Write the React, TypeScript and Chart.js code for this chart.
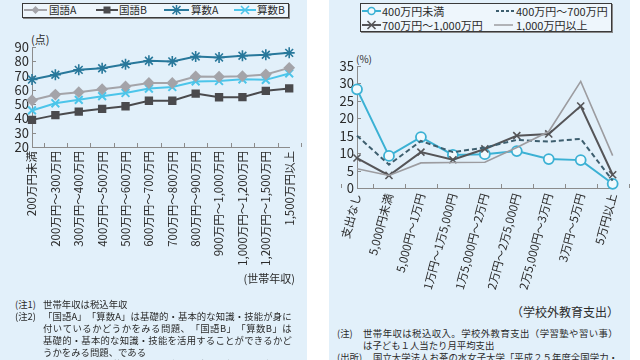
import React, { useEffect, useRef } from 'react';
import { Chart, registerables } from 'chart.js';

Chart.register(...registerables);

// ---------- data ----------
const incomeLabels = [
  '200万円未満',
  '200万円〜300万円',
  '300万円〜400万円',
  '400万円〜500万円',
  '500万円〜600万円',
  '600万円〜700万円',
  '700万円〜800万円',
  '800万円〜900万円',
  '900万円〜1,000万円',
  '1,000万円〜1,200万円',
  '1,200万円〜1,500万円',
  '1,500万円以上',
];
const kokugoA = [52.7, 56.7, 58.4, 60.5, 62.4, 64.8, 64.8, 69.4, 69.2, 69.6, 70.8, 75.4];
const kokugoB = [39.0, 42.3, 44.8, 46.7, 48.5, 52.4, 52.4, 57.4, 54.8, 54.9, 59.3, 61.0];
const sansuA = [67.2, 70.6, 74.0, 75.1, 77.9, 80.4, 79.9, 83.4, 82.7, 83.9, 84.6, 85.9];
const sansuB = [45.6, 50.6, 53.0, 55.6, 57.8, 60.9, 62.0, 65.9, 66.2, 67.4, 67.0, 71.5];
const scoreTicks = { min: 20, max: 90, step: 10 };

const spendLabels = [
  '支出なし',
  '5,000円未満',
  '5,000円〜1万円',
  '1万円〜1万5,000円',
  '1万5,000円〜2万円',
  '2万円〜2万5,000円',
  '2万5,000円〜3万円',
  '3万円〜5万円',
  '5万円以上',
];
const under400 = [28.3, 9.2, 14.6, 9.5, 9.7, 10.6, 8.3, 8.0, 1.2];
const from400to700 = [15.0, 6.7, 13.5, 10.3, 11.6, 13.8, 13.3, 14.1, 2.1];
const from700to1000 = [8.6, 3.6, 10.3, 8.1, 11.2, 15.0, 15.5, 23.5, 3.8];
const over1000 = [5.5, 3.6, 7.2, 7.3, 7.4, 11.6, 16.2, 30.6, 9.3];
const pctTicks = { min: 0, max: 35, step: 5 };

// ---------- style ----------
const FONT = '"Noto Sans CJK JP", "Noto Sans", sans-serif';
const PANEL_BG = '#e2f0fa';
const AXIS = '#8c8c8c';
const TEXT = '#2b2b2b';
const C_KA = '#a4a4a9';
const C_KB = '#4a4a4d';
const C_SA = '#28789b';
const C_SB = '#4cc5ea';
const C_U4 = '#3bb1d4';
const C_47 = '#3d5e6e';
const C_71 = '#555558';
const C_10 = '#9c9ca0';

const innerTicks = {
  id: 'innerTicks',
  beforeDatasetsDraw(chart: any) {
    const { ctx, chartArea } = chart;
    const xs = chart.scales.x;
    const ys = chart.scales.y;
    const n = chart.data.labels.length;
    ctx.save();
    ctx.strokeStyle = AXIS;
    ctx.lineWidth = 1;
    ctx.beginPath();
    for (let i = 0; i <= n; i++) {
      const x = Math.round(xs.getPixelForValue(i - 0.5)) + 0.5;
      ctx.moveTo(x, chartArea.bottom);
      ctx.lineTo(x, chartArea.bottom - 4);
    }
    ys.ticks.forEach((t: any) => {
      const y = Math.round(ys.getPixelForValue(t.value)) + 0.5;
      ctx.moveTo(chartArea.left, y);
      ctx.lineTo(chartArea.left + 4, y);
    });
    ctx.stroke();
    ctx.restore();
  },
};

function useChart(ref: React.RefObject<HTMLCanvasElement>, make: () => any) {
  useEffect(() => {
    if (!ref.current) return;
    const chart = new Chart(ref.current, make());
    return () => chart.destroy();
  }, []);
}

function LeftChart() {
  const ref = useRef<HTMLCanvasElement>(null);
  useChart(ref, () => ({
    type: 'line',
    data: {
      labels: incomeLabels,
      datasets: [
        { label: '国語A', data: kokugoA, borderColor: C_KA, backgroundColor: C_KA, pointStyle: 'rectRot', pointRadius: 4.5, borderWidth: 2, clip: false },
        { label: '国語B', data: kokugoB, borderColor: C_KB, backgroundColor: C_KB, pointStyle: 'rect', pointRadius: 4.5, borderWidth: 2, clip: false },
        { label: '算数B', data: sansuB, borderColor: C_SB, backgroundColor: C_SB, pointStyle: 'crossRot', pointRadius: 5.5, pointBorderWidth: 2, borderWidth: 2, clip: false },
        { label: '算数A', data: sansuA, borderColor: C_SA, backgroundColor: C_SA, pointStyle: 'star', pointRadius: 5.5, pointBorderWidth: 1.6, borderWidth: 2, clip: false },
      ],
    },
    options: {
      responsive: false,
      animation: false,
      layout: { padding: { left: 0, right: 12, top: 17, bottom: 0 } },
      plugins: { legend: { display: false }, tooltip: { enabled: false } },
      elements: { line: { tension: 0 } },
      scales: {
        x: {
          grid: { display: true, drawOnChartArea: false, drawTicks: false },
          border: { display: true, color: AXIS, width: 1 },
          ticks: { autoSkip: false, minRotation: 90, maxRotation: 90, padding: 4, color: TEXT, font: { family: FONT, size: 11.5 } },
          afterFit: (s: any) => { s.height = 133; },
        },
        y: {
          min: scoreTicks.min,
          max: scoreTicks.max,
          grid: { display: true, drawOnChartArea: false, drawTicks: false },
          border: { display: true, color: AXIS, width: 1 },
          ticks: { stepSize: scoreTicks.step, autoSkip: false, padding: 3, color: TEXT, font: { family: FONT, size: 13, lineHeight: 1 } },
          afterFit: (s: any) => { s.width = 32; },
        },
      },
    },
    plugins: [innerTicks],
  }));
  return (
    <canvas ref={ref} width={307} height={250}
      style={{ position: 'absolute', left: 0, top: 30, width: 307, height: 250 }} />
  );
}

function RightChart() {
  const ref = useRef<HTMLCanvasElement>(null);
  useChart(ref, () => ({
    type: 'line',
    data: {
      labels: spendLabels,
      datasets: [
        { label: '1,000万円以上', data: over1000, borderColor: C_10, backgroundColor: C_10, pointRadius: 0, borderWidth: 1.6, clip: false },
        { label: '400万円〜700万円', data: from400to700, borderColor: C_47, backgroundColor: C_47, pointRadius: 0, borderWidth: 2, borderDash: [5, 3], clip: false },
        { label: '700万円〜1,000万円', data: from700to1000, borderColor: C_71, backgroundColor: C_71, pointStyle: 'crossRot', pointRadius: 5, pointBorderWidth: 1.6, borderWidth: 2, clip: false },
        { label: '400万円未満', data: under400, borderColor: C_U4, backgroundColor: '#f1f9fd', pointBackgroundColor: '#f1f9fd', pointStyle: 'circle', pointRadius: 5, pointBorderWidth: 1.8, borderWidth: 2, clip: false },
      ],
    },
    options: {
      responsive: false,
      animation: false,
      layout: { padding: { left: 0, right: 12, top: 16, bottom: 0 } },
      plugins: { legend: { display: false }, tooltip: { enabled: false } },
      elements: { line: { tension: 0 } },
      scales: {
        x: {
          grid: { display: true, drawOnChartArea: false, drawTicks: false },
          border: { display: true, color: AXIS, width: 1 },
          ticks: { autoSkip: false, minRotation: 75, maxRotation: 75, padding: 4, color: TEXT, font: { family: FONT, size: 11.5 } },
          afterFit: (s: any) => { s.height = 112; },
        },
        y: {
          min: pctTicks.min,
          max: pctTicks.max,
          grid: { display: true, drawOnChartArea: false, drawTicks: false },
          border: { display: true, color: AXIS, width: 1 },
          ticks: { stepSize: pctTicks.step, autoSkip: false, padding: 3, color: TEXT, font: { family: FONT, size: 13, lineHeight: 1 } },
          afterFit: (s: any) => { s.width = 28; },
        },
      },
    },
    plugins: [innerTicks],
  }));
  return (
    <canvas ref={ref} width={301} height={250}
      style={{ position: 'absolute', left: 329, top: 50, width: 301, height: 250 }} />
  );
}

// ---------- html helpers ----------
function T({ x, y, size, children, right, w }: any) {
  const lh = Math.round(size * 1.3);
  const style: any = {
    position: 'absolute', top: y - lh / 2, fontSize: size, lineHeight: `${lh}px`,
    whiteSpace: 'pre', color: TEXT,
  };
  if (right !== undefined) { style.right = 640 - right; } else { style.left = x; }
  if (w) style.width = w;
  return <div style={style}>{children}</div>;
}

function J({ x, y, w, size, text }: any) {
  const lh = Math.round(size * 1.3);
  return (
    <div style={{ position: 'absolute', left: x, top: y - lh / 2, width: w, display: 'flex', justifyContent: 'space-between', fontSize: size, lineHeight: `${lh}px`, color: TEXT, whiteSpace: 'pre' }}>
      {Array.from(text as string).map((c, i) => <span key={i}>{c}</span>)}
    </div>
  );
}

function Icon({ x, y, w, color, marker, dash, lw = 2 }: any) {
  const cx = w / 2;
  const cy = 6;
  let m: any = null;
  if (marker === 'diamond') m = <polygon points={`${cx},${cy - 4} ${cx + 4},${cy} ${cx},${cy + 4} ${cx - 4},${cy}`} fill={color} />;
  if (marker === 'square') m = <rect x={cx - 3.5} y={cy - 3.5} width={7} height={7} fill={color} />;
  if (marker === 'x') m = <path d={`M${cx - 4} ${cy - 4}L${cx + 4} ${cy + 4}M${cx + 4} ${cy - 4}L${cx - 4} ${cy + 4}`} stroke={color} strokeWidth={1.6} />;
  if (marker === 'star') m = <path d={`M${cx - 4} ${cy - 4}L${cx + 4} ${cy + 4}M${cx + 4} ${cy - 4}L${cx - 4} ${cy + 4}M${cx} ${cy - 5}L${cx} ${cy + 5}`} stroke={color} strokeWidth={1.5} />;
  if (marker === 'circle') m = <circle cx={cx} cy={cy} r={3.5} fill="#f1f9fd" stroke={color} strokeWidth={1.5} />;
  return (
    <svg width={w} height={12} style={{ position: 'absolute', left: x, top: y - 6 }}>
      <line x1={0} y1={cy} x2={w} y2={cy} stroke={color} strokeWidth={lw} strokeDasharray={dash} />
      {m}
    </svg>
  );
}

export default function App() {
  return (
    <div style={{ position: 'fixed', left: 0, top: 0, width: 640, height: 360, background: '#ffffff', overflow: 'hidden', fontFamily: FONT, color: TEXT }}>
      <div style={{ position: 'absolute', left: 0, top: 0, width: 307, height: 360, background: PANEL_BG }} />
      <div style={{ position: 'absolute', left: 329, top: 0, width: 301, height: 360, background: PANEL_BG }} />

      {/* left legend */}
      <div style={{ position: 'absolute', left: 22, top: 3, width: 265, height: 13, border: '1px solid #3a3a3a', boxShadow: '1px 1px 0 #888', background: '#eef6fc' }} />
      <Icon x={24} y={10} w={23} color={C_KA} marker="diamond" />
      <T x={49} y={10} size={10.5}>国語A</T>
      <Icon x={96} y={10} w={22} color={C_KB} marker="square" />
      <T x={119} y={10} size={10.5}>国語B</T>
      <Icon x={164} y={10} w={25} color={C_SA} marker="star" />
      <T x={191} y={10} size={10.5}>算数A</T>
      <Icon x={234} y={10} w={22} color={C_SB} marker="x" />
      <T x={257} y={10} size={10.5}>算数B</T>

      <T x={31} y={39} size={11}>(点)</T>
      <LeftChart />
      <T right={295} y={278} size={11}>(世帯年収)</T>

      <T x={15} y={304} size={9.4}>(注1)</T>
      <T x={43} y={304} size={9.4}>世帯年収は税込年収</T>
      <T x={15} y={316} size={9.4}>(注2)</T>
      <J x={43} y={316} w={249} size={9.4} text="「国語A」「算数A」は基礎的・基本的な知識・技能が身に" />
      <J x={43} y={328} w={249} size={9.4} text="付いているかどうかをみる問題、「国語B」「算数B」は" />
      <J x={43} y={340} w={249} size={9.4} text="基礎的・基本的な知識・技能を活用することができるかど" />
      <T x={43} y={352} size={9.4}>うかをみる問題、である</T>
      <T x={15} y={363.5} size={9.4}>(出所)</T>
      <J x={46} y={363.5} w={246} size={9.4} text="国立大学法人お茶の水女子大学「平成２５年度全国学力・" />

      {/* right legend */}
      <div style={{ position: 'absolute', left: 360, top: 3, width: 250, height: 27, border: '1px solid #3a3a3a', boxShadow: '1px 1px 0 #888', background: '#eef6fc' }} />
      <Icon x={362} y={11} w={19} color={C_U4} marker="circle" />
      <T x={382} y={11} size={11}>400万円未満</T>
      <Icon x={496} y={11} w={19} color={C_47} dash="3 2" />
      <T x={516} y={11} size={11}>400万円〜700万円</T>
      <Icon x={362} y={25} w={19} color={C_71} marker="x" />
      <T x={382} y={25} size={11}>700万円〜1,000万円</T>
      <Icon x={494} y={25} w={19} color={C_10} lw={1.5} />
      <T x={516} y={25} size={11}>1,000万円以上</T>

      <T x={356} y={58} size={10}>(%)</T>
      <RightChart />
      <T right={619} y={312} size={12}>（学校外教育支出）</T>

      <T x={337} y={333} size={9.4}>(注)</T>
      <J x={363} y={333} w={255} size={9.4} text="世帯年収は税込収入。学校外教育支出（学習塾や習い事）" />
      <T x={363} y={345} size={9.4}>は子ども１人当たり月平均支出</T>
      <T x={337} y={357.3} size={9.4}>(出所)</T>
      <J x={373} y={357.3} w={245} size={9.4} text="国立大学法人お茶の水女子大学「平成２５年度全国学力・" />
    </div>
  );
}
